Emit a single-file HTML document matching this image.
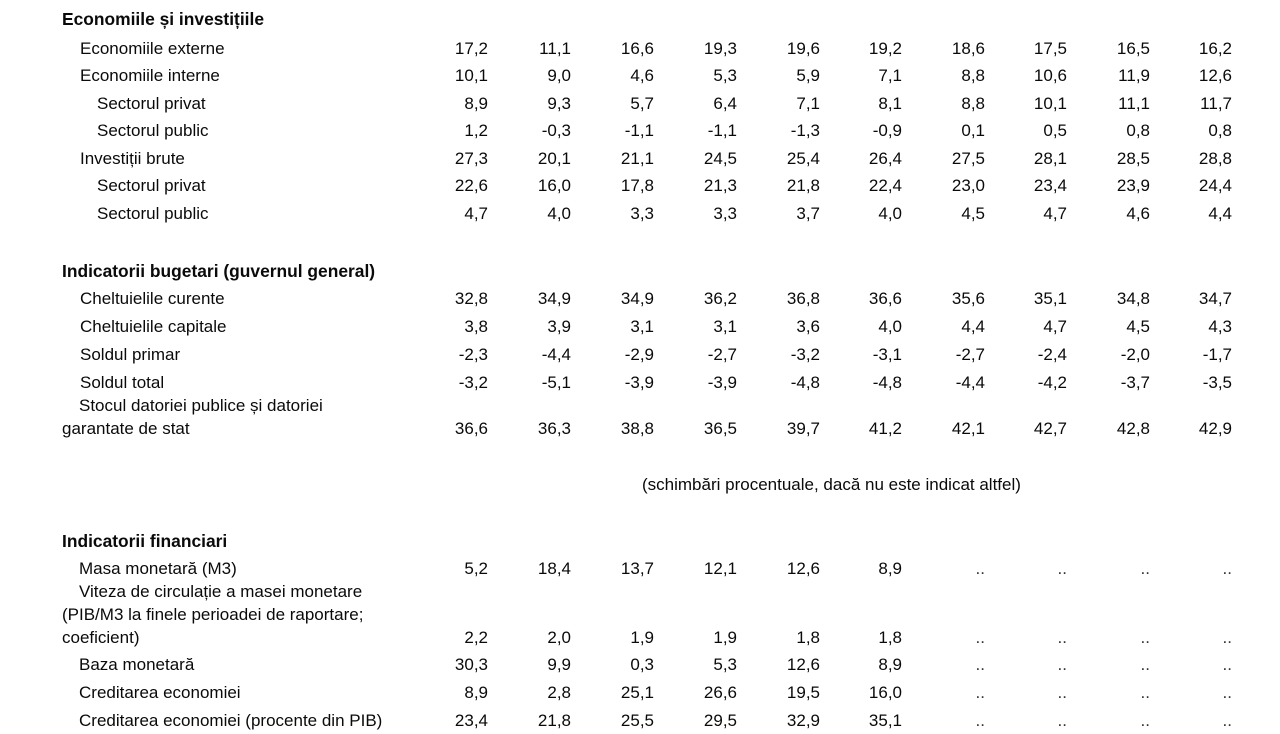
<!DOCTYPE html>
<html>
<head>
<meta charset="utf-8">
<style>
  html, body { margin:0; padding:0; background:#fff; }
  body { width:1280px; height:734px; position:relative; overflow:hidden;
         font-family:"Liberation Sans", Arial, sans-serif; font-size:17px; color:#0a0a0a; }
  .row { position:absolute; left:0; width:1280px; height:20px; line-height:20px; white-space:nowrap; }
  .l { position:absolute; }
  .b { font-weight:bold; font-size:17.4px; }
  .n { position:absolute; width:70px; text-align:right; }
  .d { position:absolute; width:70px; text-align:right; color:#333; }
  .c1{left:418px}.c2{left:501px}.c3{left:584px}.c4{left:667px}.c5{left:750px}
  .c6{left:832px}.c7{left:915px}.c8{left:997px}.c9{left:1080px}.c10{left:1162px}
</style>
</head>
<body>

<!-- Section 1 -->
<div class="row" style="top:9px"><span class="l b" style="left:62px">Economiile și investițiile</span></div>

<div class="row" style="top:38.5px"><span class="l" style="left:80px">Economiile externe</span>
<span class="n c1">17,2</span><span class="n c2">11,1</span><span class="n c3">16,6</span><span class="n c4">19,3</span><span class="n c5">19,6</span><span class="n c6">19,2</span><span class="n c7">18,6</span><span class="n c8">17,5</span><span class="n c9">16,5</span><span class="n c10">16,2</span></div>

<div class="row" style="top:66px"><span class="l" style="left:80px">Economiile interne</span>
<span class="n c1">10,1</span><span class="n c2">9,0</span><span class="n c3">4,6</span><span class="n c4">5,3</span><span class="n c5">5,9</span><span class="n c6">7,1</span><span class="n c7">8,8</span><span class="n c8">10,6</span><span class="n c9">11,9</span><span class="n c10">12,6</span></div>

<div class="row" style="top:93.5px"><span class="l" style="left:97px">Sectorul privat</span>
<span class="n c1">8,9</span><span class="n c2">9,3</span><span class="n c3">5,7</span><span class="n c4">6,4</span><span class="n c5">7,1</span><span class="n c6">8,1</span><span class="n c7">8,8</span><span class="n c8">10,1</span><span class="n c9">11,1</span><span class="n c10">11,7</span></div>

<div class="row" style="top:121px"><span class="l" style="left:97px">Sectorul public</span>
<span class="n c1">1,2</span><span class="n c2">-0,3</span><span class="n c3">-1,1</span><span class="n c4">-1,1</span><span class="n c5">-1,3</span><span class="n c6">-0,9</span><span class="n c7">0,1</span><span class="n c8">0,5</span><span class="n c9">0,8</span><span class="n c10">0,8</span></div>

<div class="row" style="top:148.5px"><span class="l" style="left:80px">Investiții brute</span>
<span class="n c1">27,3</span><span class="n c2">20,1</span><span class="n c3">21,1</span><span class="n c4">24,5</span><span class="n c5">25,4</span><span class="n c6">26,4</span><span class="n c7">27,5</span><span class="n c8">28,1</span><span class="n c9">28,5</span><span class="n c10">28,8</span></div>

<div class="row" style="top:176px"><span class="l" style="left:97px">Sectorul privat</span>
<span class="n c1">22,6</span><span class="n c2">16,0</span><span class="n c3">17,8</span><span class="n c4">21,3</span><span class="n c5">21,8</span><span class="n c6">22,4</span><span class="n c7">23,0</span><span class="n c8">23,4</span><span class="n c9">23,9</span><span class="n c10">24,4</span></div>

<div class="row" style="top:203.5px"><span class="l" style="left:97px">Sectorul public</span>
<span class="n c1">4,7</span><span class="n c2">4,0</span><span class="n c3">3,3</span><span class="n c4">3,3</span><span class="n c5">3,7</span><span class="n c6">4,0</span><span class="n c7">4,5</span><span class="n c8">4,7</span><span class="n c9">4,6</span><span class="n c10">4,4</span></div>

<!-- Section 2 -->
<div class="row" style="top:260.5px"><span class="l b" style="left:62px">Indicatorii bugetari (guvernul general)</span></div>

<div class="row" style="top:288.5px"><span class="l" style="left:80px">Cheltuielile curente</span>
<span class="n c1">32,8</span><span class="n c2">34,9</span><span class="n c3">34,9</span><span class="n c4">36,2</span><span class="n c5">36,8</span><span class="n c6">36,6</span><span class="n c7">35,6</span><span class="n c8">35,1</span><span class="n c9">34,8</span><span class="n c10">34,7</span></div>

<div class="row" style="top:316.5px"><span class="l" style="left:80px">Cheltuielile capitale</span>
<span class="n c1">3,8</span><span class="n c2">3,9</span><span class="n c3">3,1</span><span class="n c4">3,1</span><span class="n c5">3,6</span><span class="n c6">4,0</span><span class="n c7">4,4</span><span class="n c8">4,7</span><span class="n c9">4,5</span><span class="n c10">4,3</span></div>

<div class="row" style="top:344.5px"><span class="l" style="left:80px">Soldul primar</span>
<span class="n c1">-2,3</span><span class="n c2">-4,4</span><span class="n c3">-2,9</span><span class="n c4">-2,7</span><span class="n c5">-3,2</span><span class="n c6">-3,1</span><span class="n c7">-2,7</span><span class="n c8">-2,4</span><span class="n c9">-2,0</span><span class="n c10">-1,7</span></div>

<div class="row" style="top:372.5px"><span class="l" style="left:80px">Soldul total</span>
<span class="n c1">-3,2</span><span class="n c2">-5,1</span><span class="n c3">-3,9</span><span class="n c4">-3,9</span><span class="n c5">-4,8</span><span class="n c6">-4,8</span><span class="n c7">-4,4</span><span class="n c8">-4,2</span><span class="n c9">-3,7</span><span class="n c10">-3,5</span></div>

<div class="row" style="top:396px"><span class="l" style="left:79px">Stocul datoriei publice și datoriei</span></div>

<div class="row" style="top:418.5px"><span class="l" style="left:62px">garantate de stat</span>
<span class="n c1">36,6</span><span class="n c2">36,3</span><span class="n c3">38,8</span><span class="n c4">36,5</span><span class="n c5">39,7</span><span class="n c6">41,2</span><span class="n c7">42,1</span><span class="n c8">42,7</span><span class="n c9">42,8</span><span class="n c10">42,9</span></div>

<div class="row" style="top:474.5px"><span class="l" style="left:642px">(schimbări procentuale, dacă nu este indicat altfel)</span></div>

<!-- Section 3 -->
<div class="row" style="top:530.5px"><span class="l b" style="left:62px">Indicatorii financiari</span></div>

<div class="row" style="top:558.5px"><span class="l" style="left:79px">Masa monetară (M3)</span>
<span class="n c1">5,2</span><span class="n c2">18,4</span><span class="n c3">13,7</span><span class="n c4">12,1</span><span class="n c5">12,6</span><span class="n c6">8,9</span><span class="d c7">..</span><span class="d c8">..</span><span class="d c9">..</span><span class="d c10">..</span></div>

<div class="row" style="top:582px"><span class="l" style="left:79px">Viteza de circulație a masei monetare</span></div>

<div class="row" style="top:604.5px"><span class="l" style="left:62px">(PIB/M3 la finele perioadei de raportare;</span></div>

<div class="row" style="top:627.5px"><span class="l" style="left:62px">coeficient)</span>
<span class="n c1">2,2</span><span class="n c2">2,0</span><span class="n c3">1,9</span><span class="n c4">1,9</span><span class="n c5">1,8</span><span class="n c6">1,8</span><span class="d c7">..</span><span class="d c8">..</span><span class="d c9">..</span><span class="d c10">..</span></div>

<div class="row" style="top:654.5px"><span class="l" style="left:79px">Baza monetară</span>
<span class="n c1">30,3</span><span class="n c2">9,9</span><span class="n c3">0,3</span><span class="n c4">5,3</span><span class="n c5">12,6</span><span class="n c6">8,9</span><span class="d c7">..</span><span class="d c8">..</span><span class="d c9">..</span><span class="d c10">..</span></div>

<div class="row" style="top:682.5px"><span class="l" style="left:79px">Creditarea economiei</span>
<span class="n c1">8,9</span><span class="n c2">2,8</span><span class="n c3">25,1</span><span class="n c4">26,6</span><span class="n c5">19,5</span><span class="n c6">16,0</span><span class="d c7">..</span><span class="d c8">..</span><span class="d c9">..</span><span class="d c10">..</span></div>

<div class="row" style="top:710.5px"><span class="l" style="left:79px">Creditarea economiei (procente din PIB)</span>
<span class="n c1">23,4</span><span class="n c2">21,8</span><span class="n c3">25,5</span><span class="n c4">29,5</span><span class="n c5">32,9</span><span class="n c6">35,1</span><span class="d c7">..</span><span class="d c8">..</span><span class="d c9">..</span><span class="d c10">..</span></div>

</body>
</html>
